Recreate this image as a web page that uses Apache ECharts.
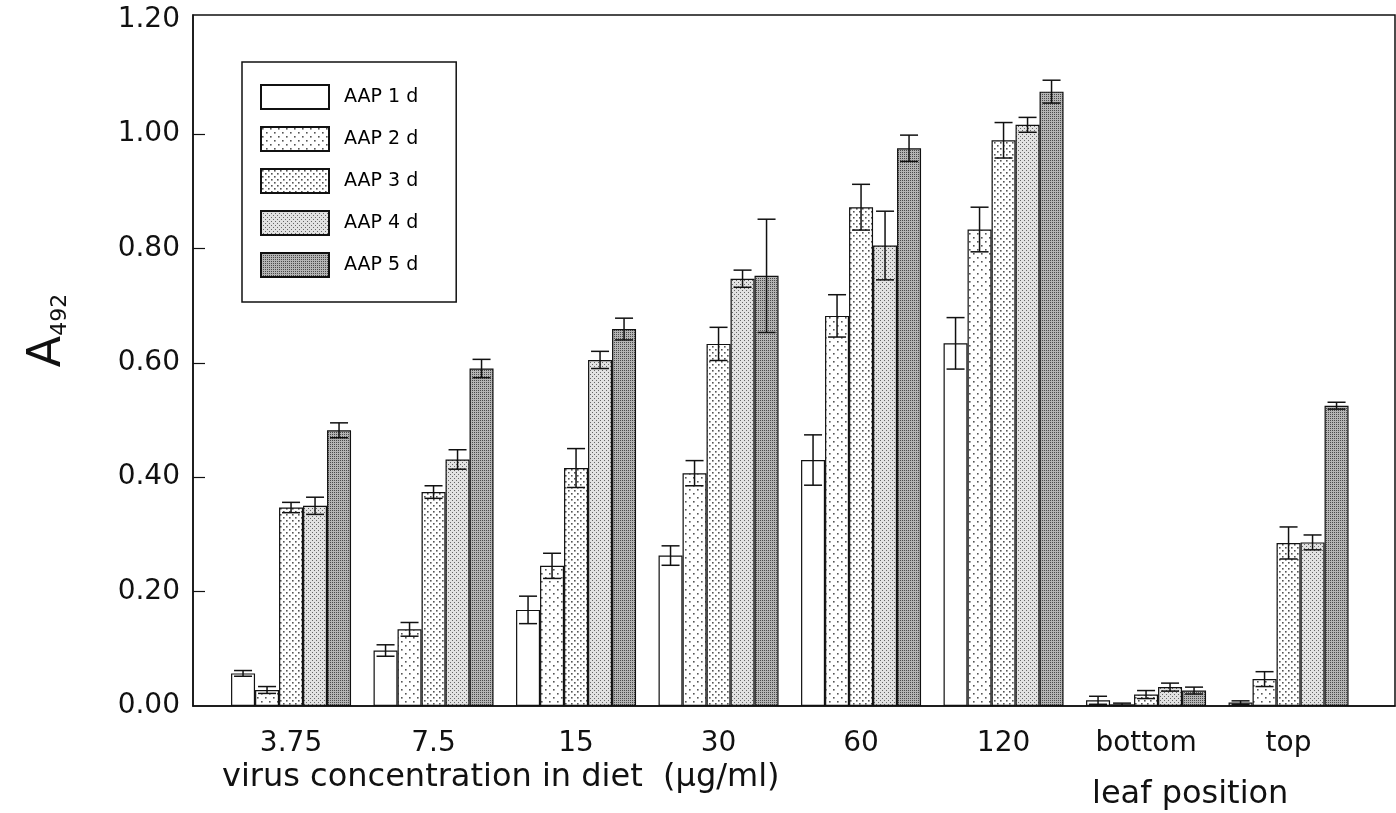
<!DOCTYPE html>
<html>
<head>
<meta charset="utf-8">
<script src="https://cdn.jsdelivr.net/npm/echarts@6/dist/echarts.min.js"></script>
<style>
html,body{margin:0;padding:0;background:#fff;}
#chart{width:1396px;height:813px;}
</style>
</head>
<body>
<div id="chart"></div>
<script>
// ---------- data ----------
const categories = ['3.75', '7.5', '15', '30', '60', '120', 'bottom', 'top'];
const seriesNames = ['AAP 1 d', 'AAP 2 d', 'AAP 3 d', 'AAP 4 d', 'AAP 5 d'];
const aap1 = [0.057, 0.097, 0.168, 0.263, 0.430, 0.634, 0.010, 0.006];
const err1 = [0.005, 0.010, 0.024, 0.017, 0.044, 0.045, 0.007, 0.003];
const aap2 = [0.028, 0.134, 0.245, 0.407, 0.682, 0.833, 0.003, 0.047];
const err2 = [0.006, 0.012, 0.022, 0.022, 0.037, 0.039, 0.002, 0.013];
const aap3 = [0.347, 0.374, 0.416, 0.633, 0.872, 0.989, 0.020, 0.285];
const err3 = [0.009, 0.011, 0.034, 0.029, 0.040, 0.031, 0.007, 0.028];
const aap4 = [0.350, 0.431, 0.605, 0.747, 0.805, 1.016, 0.033, 0.286];
const err4 = [0.015, 0.017, 0.015, 0.015, 0.060, 0.013, 0.007, 0.013];
const aap5 = [0.482, 0.590, 0.659, 0.752, 0.975, 1.074, 0.027, 0.525];
const err5 = [0.013, 0.016, 0.019, 0.099, 0.023, 0.020, 0.006, 0.006];
const yTicks = [0, 0.2, 0.4, 0.6, 0.8, 1.0, 1.2];
const xTitle = 'virus concentration in diet  (\u00b5g/ml)';
const xTitle2 = 'leaf position';

const values = [aap1, aap2, aap3, aap4, aap5];
const errors = [err1, err2, err3, err4, err5];

// ---------- styles ----------
const FONT = 'DejaVu Sans';
const BAR_W = 24;
const CAP_W = 18;

function makePattern(size, bg, dots, r, col) {
  const c = document.createElement('canvas');
  c.width = size; c.height = size;
  const g = c.getContext('2d');
  g.fillStyle = bg; g.fillRect(0, 0, size, size);
  g.fillStyle = col;
  dots.forEach(d => g.fillRect(d[0], d[1], r, r));
  return { image: c, repeat: 'repeat' };
}
const fills = [
  '#ffffff',
  makePattern(8, '#ffffff', [[1, 1], [5, 5]], 1.6, '#555'),
  makePattern(6, '#ffffff', [[1, 1], [4, 4]], 1.6, '#555'),
  makePattern(4, '#e2e2e2', [[0, 0], [2, 2]], 1, '#666'),
  makePattern(4, '#b4b4b4', [[0, 0], [2, 2], [0, 2], [2, 0]], 1, '#4a4a4a')
];

const chart = echarts.init(document.getElementById('chart'), null, { renderer: 'canvas' });

const barSeries = values.map((vals, k) => ({
  name: seriesNames[k],
  type: 'bar',
  data: vals.map((v, i) => [i, v]),
  barWidth: BAR_W,
  barGap: '0%',
  itemStyle: { color: fills[k], borderColor: '#111', borderWidth: 1.2 },
  z: 2
}));

function errRender(k) {
  return function (params, api) {
    const x = api.value(0);
    const lo = api.coord([x, api.value(1)]);
    const hi = api.coord([x, api.value(2)]);
    const cx = lo[0] + (k - 2) * BAR_W;
    const st = { stroke: '#111', lineWidth: 1.5 };
    return {
      type: 'group',
      children: [
        { type: 'line', shape: { x1: cx, y1: lo[1], x2: cx, y2: hi[1] }, style: st },
        { type: 'line', shape: { x1: cx - CAP_W / 2, y1: lo[1], x2: cx + CAP_W / 2, y2: lo[1] }, style: st },
        { type: 'line', shape: { x1: cx - CAP_W / 2, y1: hi[1], x2: cx + CAP_W / 2, y2: hi[1] }, style: st }
      ]
    };
  };
}
const errSeries = values.map((vals, k) => ({
  type: 'custom',
  name: 'err' + k,
  renderItem: errRender(k),
  encode: { x: 0, y: [1, 2] },
  data: vals.map((v, i) => [i, v - errors[k][i], v + errors[k][i]]),
  z: 3,
  silent: true
}));

const option = {
  backgroundColor: '#fff',
  animation: false,
  title: [
    { text: xTitle, left: 222, top: 762, padding: 0,
      textStyle: { fontFamily: FONT, fontSize: 32, fontWeight: 'normal', color: '#111' } },
    { text: xTitle2, left: 1092, top: 779, padding: 0,
      textStyle: { fontFamily: FONT, fontSize: 32, fontWeight: 'normal', color: '#111' } }
  ],
  legend: {
    data: seriesNames,
    orient: 'vertical',
    left: 242, top: 62,
    padding: [22, 38, 24, 18],
    itemWidth: 68, itemHeight: 24, itemGap: 16,
    icon: 'rect',
    backgroundColor: '#fff',
    borderColor: '#111', borderWidth: 1.5,
    textStyle: { fontFamily: FONT, fontSize: 19, color: '#000', padding: [0, 0, 0, 10] },
    selectedMode: false
  },
  grid: {
    left: 193, right: 1, top: 15, bottom: 107,
    outerBoundsMode: 'none',
    containLabel: false,
    show: true, borderColor: '#111', borderWidth: 1.5, backgroundColor: 'transparent'
  },
  xAxis: {
    type: 'value',
    min: -0.688, max: 7.747,
    splitLine: { show: false },
    axisLine: { show: true, onZero: false, lineStyle: { color: '#111', width: 1.5 } },
    axisTick: { show: false },
    axisLabel: {
      customValues: categories.map((c, i) => i),
      formatter: v => categories[Math.round(v)],
      fontFamily: FONT, fontSize: 28, color: '#111', margin: 24
    }
  },
  yAxis: {
    type: 'value',
    min: 0, max: 1.208, interval: 0.2,
    name: '{a|A}{s|492}',
    nameLocation: 'middle',
    nameGap: 122,
    nameRotate: 90,
    nameTextStyle: {
      padding: [0, 0, 0, 60],
      rich: {
        a: { fontFamily: FONT, fontSize: 46, lineHeight: 52, verticalAlign: 'bottom', color: '#111' },
        s: { fontFamily: FONT, fontSize: 22, lineHeight: 22, verticalAlign: 'bottom', color: '#111' }
      }
    },
    splitLine: { show: false },
    axisLine: { show: true, onZero: false, lineStyle: { color: '#111', width: 1.5 } },
    axisTick: {
      show: true, inside: true, length: 12,
      customValues: yTicks.slice(1, -1),
      lineStyle: { color: '#111', width: 1.2 }
    },
    axisLabel: {
      customValues: yTicks,
      formatter: v => v.toFixed(2),
      fontFamily: FONT, fontSize: 28, color: '#111', margin: 13
    }
  },
  series: barSeries.concat(errSeries)
};
chart.setOption(option);
</script>
</body>
</html>
